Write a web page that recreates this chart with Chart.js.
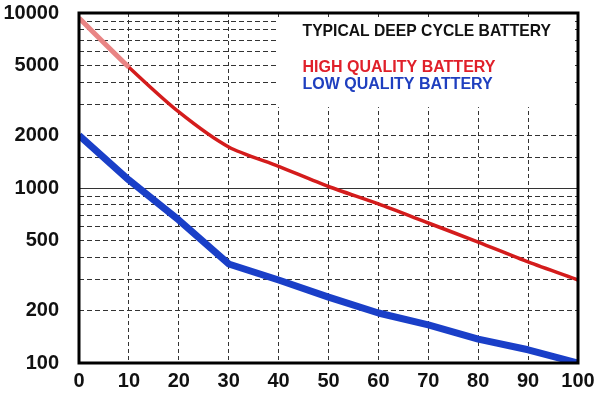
<!DOCTYPE html>
<html>
<head>
<meta charset="utf-8">
<script src="https://cdn.jsdelivr.net/npm/chart.js@4/dist/chart.umd.min.js"></script>
<style>
    html, body { margin: 0; padding: 0; background: #fff; }
    #wrap { width: 600px; height: 400px; }
</style>
</head>
<body>
<div id="wrap"><canvas id="chart" width="600" height="400"></canvas></div>
<script>
// depth of discharge (%) vs. cycles
const depth = [0, 10, 20, 30, 40, 50, 60, 70, 80, 90, 100];
const highQuality = [9350, 4900, 2720, 1715, 1330, 1020, 811, 631, 491, 378, 298];
const lowQuality = [2000, 1110, 656, 368, 298, 238, 193, 165, 137, 119, 100];
const yLabels = [100, 200, 500, 1000, 2000, 5000, 10000];
const title = 'TYPICAL DEEP CYCLE BATTERY';
const seriesNames = ['HIGH QUALITY BATTERY', 'LOW QUALITY BATTERY'];

const labelFont = { family: 'Liberation Sans, Arial, sans-serif', size: 20, weight: 'bold' };

// white box with the captions, plus the solid 1000 line and the frame
const overlay = {
    id: 'overlay',
    beforeDatasetsDraw(chart) {
        const { ctx, chartArea: a, scales: { x, y } } = chart;
        ctx.save();
        // solid line at 1000
        ctx.strokeStyle = '#333';
        ctx.lineWidth = 1;
        ctx.beginPath();
        const y1000 = Math.round(y.getPixelForValue(1000)) + 0.5;
        ctx.moveTo(a.left, y1000);
        ctx.lineTo(a.right, y1000);
        ctx.stroke();

        // caption box
        const bx = x.getPixelForValue(39.6);
        const by = a.top + 5;
        const bw = a.right - 3 - bx;
        const bh = y.getPixelForValue(2900) - by;
        ctx.fillStyle = '#fff';
        ctx.fillRect(bx, by, bw, bh);

        const tx = x.getPixelForValue(44.8);
        ctx.textBaseline = 'alphabetic';
        ctx.textAlign = 'left';
        ctx.font = 'bold 15.7px Liberation Sans, Arial, sans-serif';
        ctx.fillStyle = '#111';
        ctx.fillText(title, tx, a.top + 23);
        ctx.font = 'bold 16px Liberation Sans, Arial, sans-serif';
        ctx.fillStyle = '#e0202a';
        ctx.fillText(seriesNames[0], tx, a.top + 59);
        ctx.fillStyle = '#1f3fbf';
        ctx.fillText(seriesNames[1], tx, a.top + 76);
        ctx.restore();
    },
    afterDraw(chart) {
        const { ctx, chartArea: a } = chart;
        ctx.save();
        ctx.strokeStyle = '#000';
        ctx.lineWidth = 3;
        ctx.strokeRect(a.left, a.top, a.right - a.left, a.bottom - a.top);
        ctx.restore();
    }
};

new Chart(document.getElementById('chart'), {
    type: 'line',
    data: {
        labels: depth,
        datasets: [
            {
                label: seriesNames[1],
                data: depth.map((d, i) => ({ x: d, y: lowQuality[i] })),
                borderColor: '#1a3fc8',
                borderWidth: 7,
                pointRadius: 0,
                tension: 0,
                borderJoinStyle: 'round'
            },
            {
                label: seriesNames[0],
                data: depth.map((d, i) => ({ x: d, y: highQuality[i] })),
                borderColor: '#d41c1c',
                borderWidth: 3.5,
                pointRadius: 0,
                tension: 0.25,
                segment: {
                    borderColor: c => c.p0DataIndex === 0 ? '#e98585' : undefined,
                    borderWidth: c => c.p0DataIndex === 0 ? 5 : undefined
                }
            }
        ]
    },
    options: {
        responsive: false,
        animation: false,
        layout: { padding: { top: 13, right: 22, left: 0, bottom: 0 } },
        plugins: {
            legend: { display: false },
            tooltip: { enabled: false }
        },
        scales: {
            x: {
                type: 'linear',
                min: 0,
                max: 100,
                ticks: { stepSize: 10, color: '#111', font: labelFont, padding: 6, maxRotation: 0 },
                grid: { color: '#333', lineWidth: 1, drawTicks: false },
                border: { display: false, dash: [4, 3] },
                afterFit: s => {
                    s.height = 37;
                    s.paddingLeft = 0;
                    s.paddingRight = 0;
                }
            },
            y: {
                type: 'logarithmic',
                min: 100,
                max: 10000,
                ticks: {
                    color: '#111',
                    font: labelFont,
                    padding: 20,
                    autoSkip: false,
                    callback: v => yLabels.includes(v) ? String(v) : ''
                },
                grid: { color: '#333', lineWidth: 1, drawTicks: false },
                border: { display: false, dash: [5, 3] },
                afterFit: s => {
                    s.width = 79;
                    s.paddingTop = 0;
                    s.paddingBottom = 0;
                }
            }
        }
    },
    plugins: [overlay]
});
</script>
</body>
</html>
